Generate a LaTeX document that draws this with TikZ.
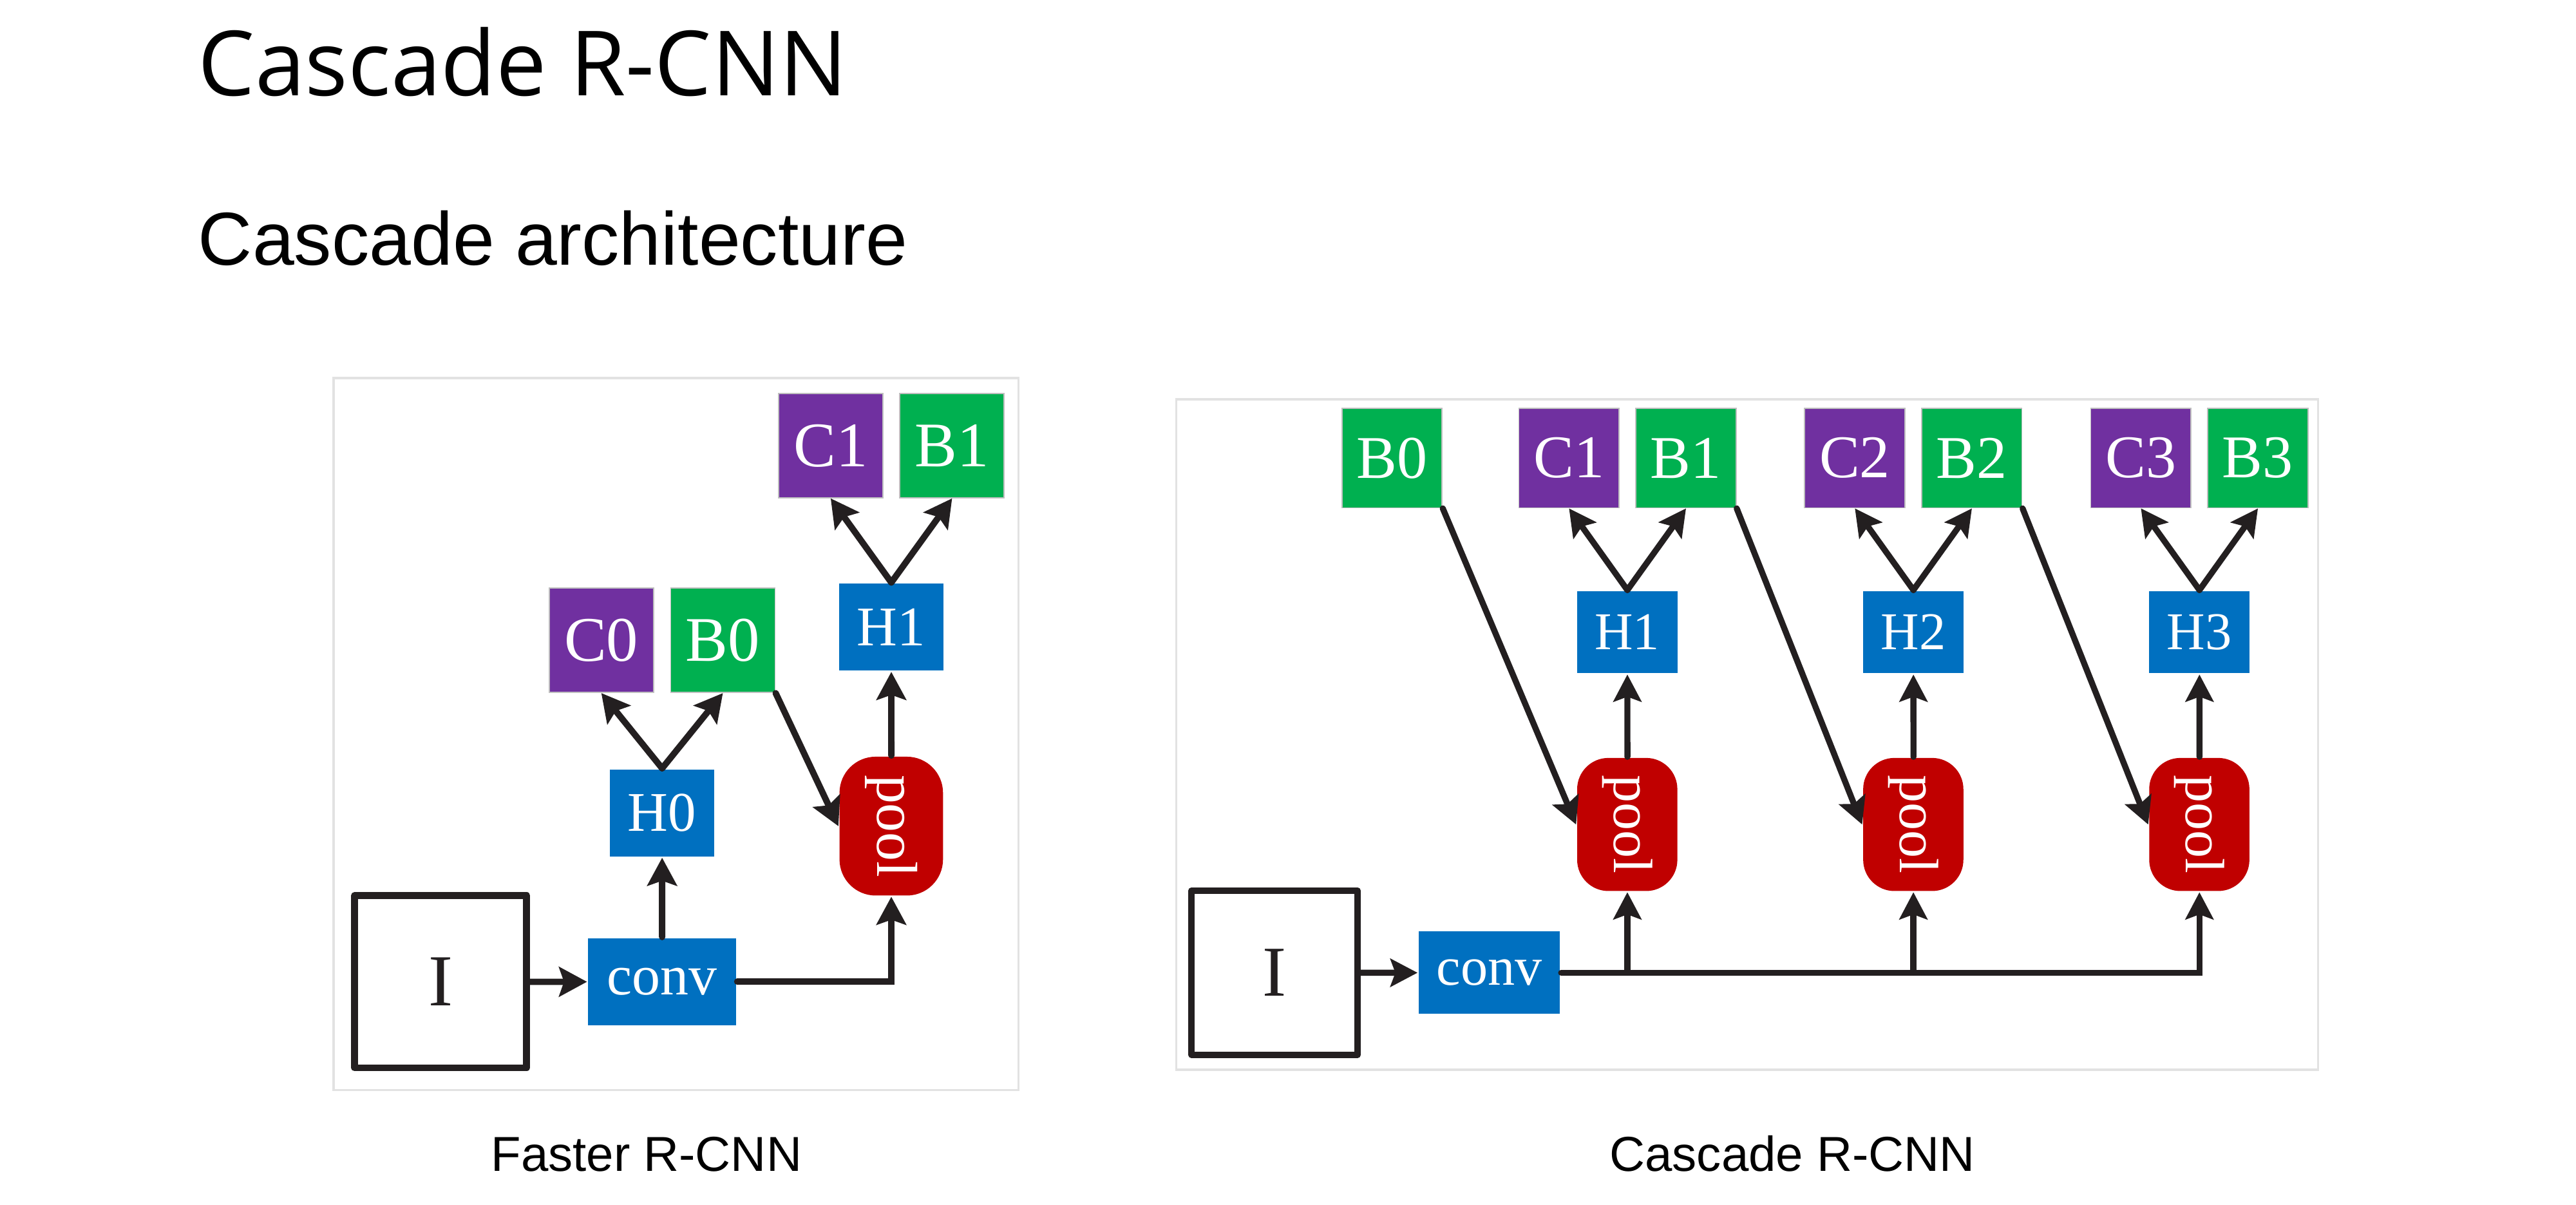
\documentclass[tikz,border=0pt]{standalone}
\usepackage{tikz}
\usepackage{xcolor}
\usepackage{fontspec}
\usetikzlibrary{arrows.meta}
\setmainfont{Liberation Sans}
\newfontfamily\titlefont{Open Sans}
\newfontfamily\figfont{Liberation Serif}
\definecolor{clspurple}{HTML}{7030A0}
\definecolor{reggreen}{HTML}{00B050}
\definecolor{headblue}{HTML}{0070C0}
\definecolor{poolred}{HTML}{C00000}
\definecolor{ink}{HTML}{231F20}
\definecolor{framegray}{HTML}{E2E2E2}
\begin{document}
\begin{tikzpicture}[scale=0.1,
	box/.style={rectangle, inner sep=0pt, text=white},
	cls/.style={box, fill=clspurple, draw=black!25, line width=0.2pt, minimum width=0.635cm, minimum height=0.635cm, font=\figfont\fontsize{11}{13}\selectfont},
	reg/.style={cls, fill=reggreen},
	head/.style={box, fill=headblue, minimum width=0.635cm, minimum height=0.53cm, font=\figfont\fontsize{9.7}{11}\selectfont},
	convbox/.style={head, minimum width=0.9cm, font=\figfont\fontsize{9.8}{11}\selectfont},
	poolbox/.style={box, fill=poolred, rounded corners=0.22cm, minimum width=0.63cm, minimum height=0.845cm, font=\figfont\fontsize{10}{11}\selectfont},
	imgbox/.style={rectangle, draw=ink, line width=1.2pt, line join=round, text=ink, minimum width=1.048cm, minimum height=1.048cm, font=\figfont\fontsize{12.7}{14}\selectfont},
	arr/.style={draw=ink, line width=1.1pt, line cap=round, -{Stealth[length=0.17cm, width=0.18cm, inset=0.03cm]}},
	panel/.style={draw=framegray, line width=0.4pt}
	]
			\useasboundingbox (0,0) rectangle (156.8,-73.34);
			\node[anchor=base west, inner sep=0pt, font=\titlefont\fontsize{15.6}{18}\selectfont] (title) at (12,-5.81) {Cascade R-CNN};
			\node[anchor=base west, inner sep=0pt, font=\fontsize{13}{15}\selectfont] (subtitle) at (12,-16.14) {Cascade architecture};
			\draw [panel] (20.3,-23) rectangle (62,-66.35);
			\node[imgbox] (fI) at (26.82,-59.75) {I};
			\node[convbox] (fconv) at (40.3,-59.75) {conv};
			\node[head] (fH0) at (40.3,-49.48) {H0};
			\node[cls] (fC0) at (36.6,-38.97) {C0};
			\node[reg] (fB0) at (44,-38.97) {B0};
			\node[poolbox] (fpool) at (54.25,-50.28) {\rotatebox{-90}{pool}};
			\node[head] (fH1) at (54.25,-38.17) {H1};
			\node[cls] (fC1) at (50.56,-27.12) {C1};
			\node[reg] (fB1) at (57.95,-27.12) {B1};
			\draw [arr] (fI) -- (fconv);
			\draw [arr] (fconv) -- (fH0);
			\draw [arr] (fH0.north) -- (fC0.south);
			\draw [arr] (fH0.north) -- (fB0.south);
			\draw [arr] (fB0.south east) -- (fpool.west);
			\draw [arr] (fpool) -- (fH1);
			\draw [arr] (fH1.north) -- (fC1.south);
			\draw [arr] (fH1.north) -- (fB1.south);
			\draw [arr] (fconv.east) -| (fpool.south);
			\node[anchor=base, inner sep=0pt, font=\fontsize{8.5}{10}\selectfont] (fcap) at (39.35,-71.28) {Faster R-CNN};
			\begin{scope}[
				cls/.append style={minimum width=0.61cm, minimum height=0.605cm, font=\figfont\fontsize{10.5}{12}\selectfont},
				head/.append style={minimum width=0.61cm, minimum height=0.5cm, font=\figfont\fontsize{9.2}{11}\selectfont},
				convbox/.append style={minimum width=0.86cm, font=\figfont\fontsize{9.4}{11}\selectfont},
				poolbox/.append style={rounded corners=0.19cm, minimum width=0.61cm, minimum height=0.81cm, font=\figfont\fontsize{9.6}{11}\selectfont},
				imgbox/.append style={line width=1.1pt, minimum width=1.01cm, minimum height=1.0cm, font=\figfont\fontsize{12.4}{14}\selectfont},
				arr/.append style={line width=1.05pt, -{Stealth[length=0.165cm, width=0.17cm, inset=0.03cm]}}
				]
				\draw [panel] (71.6,-24.3) rectangle (141.1,-65.1);
				\node[imgbox] (cI) at (77.58,-59.2) {I};
				\node[convbox] (cconv) at (90.65,-59.2) {conv};
				\node[reg] (cB0) at (84.73,-27.88) {B0};
				\node[poolbox] (cpool1) at (99.05,-50.18) {\rotatebox{-90}{pool}};
				\node[head] (cH1) at (99.05,-38.48) {H1};
				\node[cls] (cC1) at (95.5,-27.88) {C1};
				\node[reg] (cB1) at (102.62,-27.88) {B1};
				\node[poolbox] (cpool2) at (116.46,-50.18) {\rotatebox{-90}{pool}};
				\node[head] (cH2) at (116.46,-38.48) {H2};
				\node[cls] (cC2) at (112.9,-27.88) {C2};
				\node[reg] (cB2) at (120.02,-27.88) {B2};
				\node[poolbox] (cpool3) at (133.87,-50.18) {\rotatebox{-90}{pool}};
				\node[head] (cH3) at (133.87,-38.48) {H3};
				\node[cls] (cC3) at (130.31,-27.88) {C3};
				\node[reg] (cB3) at (137.43,-27.88) {B3};
				\draw [arr] (cI) -- (cconv);
				\draw [arr] (cconv.east) -| (cpool3.south);
				\draw [arr] (cconv.east -| cpool1.south) -- (cpool1.south);
				\draw [arr] (cconv.east -| cpool2.south) -- (cpool2.south);
				\draw [arr] (cpool1) -- (cH1);
				\draw [arr] (cpool2) -- (cH2);
				\draw [arr] (cpool3) -- (cH3);
				\draw [arr] (cH1.north) -- (cC1.south);
				\draw [arr] (cH1.north) -- (cB1.south);
				\draw [arr] (cH2.north) -- (cC2.south);
				\draw [arr] (cH2.north) -- (cB2.south);
				\draw [arr] (cH3.north) -- (cC3.south);
				\draw [arr] (cH3.north) -- (cB3.south);
				\draw [arr] (cB0.south east) -- (cpool1.west);
				\draw [arr] (cB1.south east) -- (cpool2.west);
				\draw [arr] (cB2.south east) -- (cpool3.west);
				\node[anchor=base, inner sep=0pt, font=\fontsize{8.5}{10}\selectfont] (ccap) at (109.1,-71.28) {Cascade R-CNN};
			\end{scope}
\end{tikzpicture}
\end{document}
